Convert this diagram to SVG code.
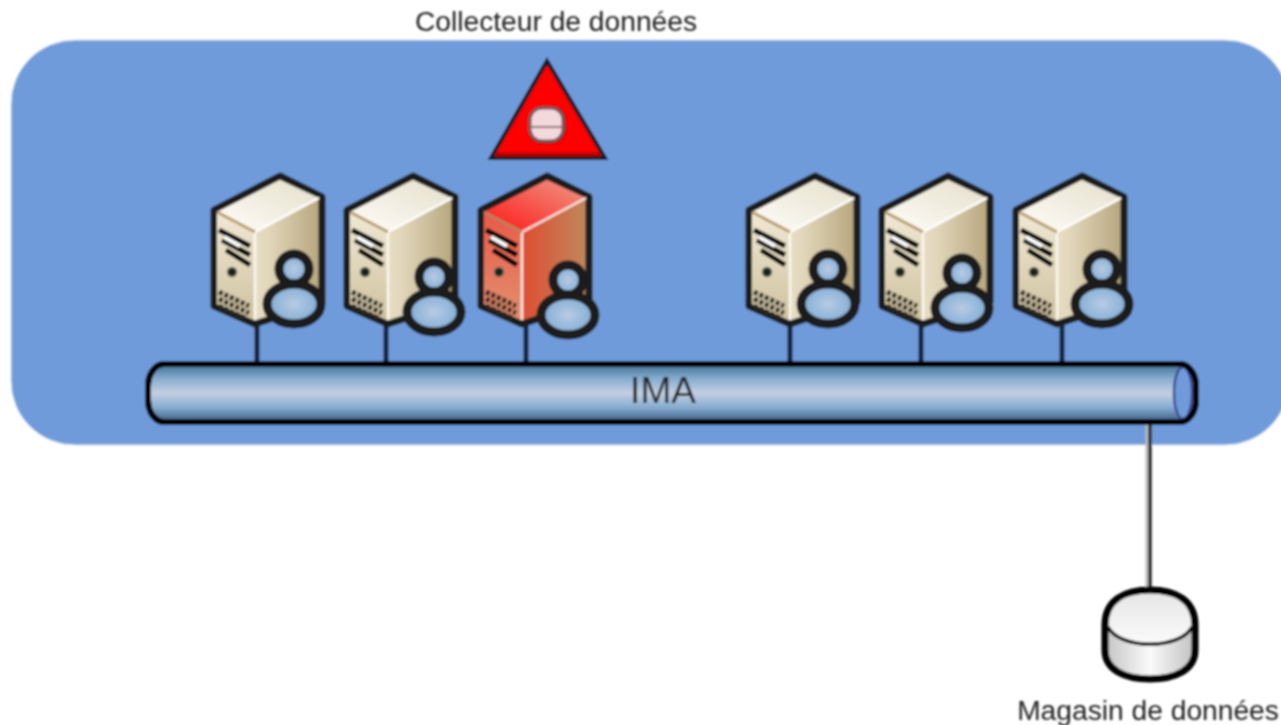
<svg xmlns="http://www.w3.org/2000/svg" xmlns:xlink="http://www.w3.org/1999/xlink" width="1281" height="725" viewBox="0 0 1281 725">
<style>
.lbl{font-family:"Liberation Sans",Arial,sans-serif;fill:#222}
.out{stroke:#1a1a1a;stroke-width:7;stroke-linejoin:round}
.conn{fill:none;stroke:#16243f;stroke-width:5}
</style>
<defs>
<filter id="soft" x="-2%" y="-2%" width="104%" height="104%"><feGaussianBlur stdDeviation="0.9"/></filter>
<linearGradient id="pipe" x1="0" y1="0" x2="0" y2="1"><stop offset="0" stop-color="#3f6f95"/><stop offset=".25" stop-color="#86acd0"/><stop offset=".5" stop-color="#c3cfe2"/><stop offset=".75" stop-color="#86acd0"/><stop offset="1" stop-color="#3a5a80"/></linearGradient>
<linearGradient id="side" x1="0" y1="0" x2="1" y2="0"><stop offset="0" stop-color="#f4eedf"/><stop offset=".5" stop-color="#e2d7bb"/><stop offset="1" stop-color="#b5a57c"/></linearGradient>
<linearGradient id="front" x1="0" y1="0" x2="0" y2="1"><stop offset="0" stop-color="#f0e8d4"/><stop offset="1" stop-color="#cfc2a0"/></linearGradient>
<linearGradient id="top" x1="0" y1="1" x2="1" y2="0"><stop offset="0" stop-color="#fffdf8"/><stop offset="1" stop-color="#e4dfcc"/></linearGradient>
<linearGradient id="rside" x1="0" y1="0" x2="1" y2="0"><stop offset="0" stop-color="#ee2a1c"/><stop offset=".5" stop-color="#d9593a"/><stop offset="1" stop-color="#bd8a5e"/></linearGradient>
<linearGradient id="rfront" x1="0" y1="0" x2="0" y2="1"><stop offset="0" stop-color="#e85a48"/><stop offset="1" stop-color="#e29070"/></linearGradient>
<linearGradient id="rtop" x1="0" y1="1" x2="1" y2="0"><stop offset="0" stop-color="#ff1414"/><stop offset="1" stop-color="#ee9a88"/></linearGradient>
<radialGradient id="usr"><stop offset="0" stop-color="#b8cbe4"/><stop offset="1" stop-color="#7fabd4"/></radialGradient>
<linearGradient id="dbside" x1="0" y1="0" x2="1" y2="0"><stop offset="0" stop-color="#c4c4c4"/><stop offset=".5" stop-color="#fafafa"/><stop offset="1" stop-color="#c0c0c0"/></linearGradient>
<linearGradient id="dbtop" x1="0" y1="0" x2="0" y2="1"><stop offset="0" stop-color="#e6e6e6"/><stop offset="1" stop-color="#fbfbfb"/></linearGradient>
<g id="marks">
<path d="M219 230L250 246M222 240L250 255M226 250L250 265" stroke="#000" stroke-width="5" fill="none"/>
<path d="M224 237L240 246" stroke="#fff" stroke-width="4" fill="none"/>
<circle cx="232" cy="272" r="4.500" fill="#14211d" stroke="#6b6b55" stroke-width="1.500"/>
<path d="M219 292L249 306M219 299L249 313M219 306L245 318" stroke="#2c2822" stroke-width="5" stroke-dasharray="4 2" fill="none"/>
</g>
<g id="srv">
<path class="out" d="M280 176L322 197V302L255 324L214 306V210Z" fill="url(#side)"/>
<path d="M217 213V304L254 320V232Z" fill="url(#front)"/>
<path d="M280 180L319 198L255 232L217 212Z" fill="url(#top)"/>
<path d="M255 232V320" stroke="#fbf8ef" stroke-width="2.500" fill="none"/>
<path d="M255 232L319 198" stroke="#fff" stroke-width="2.500" fill="none"/>
<path d="M217 212L255 232" stroke="#b89c70" stroke-width="3" fill="none"/>
<use xlink:href="#marks" href="#marks"/>
</g>
<g id="srvr">
<path class="out" d="M280 176L322 197V302L255 324L214 306V210Z" fill="url(#rside)"/>
<path d="M217 213V304L254 320V232Z" fill="url(#rfront)"/>
<path d="M280 180L319 198L255 232L217 212Z" fill="url(#rtop)"/>
<path d="M255 232V320" stroke="#fbe8df" stroke-width="2.500" fill="none"/>
<path d="M255 232L319 198" stroke="#fde0dc" stroke-width="2.500" fill="none"/>
<path d="M217 212L255 232" stroke="#b8805a" stroke-width="3" fill="none"/>
<use xlink:href="#marks" href="#marks"/>
</g>
<g id="usrg">
<circle cx="0" cy="-35" r="15" fill="url(#usr)" class="out" style="stroke-width:9"/>
<ellipse cx="0" cy="0" rx="27" ry="20" fill="url(#usr)" class="out" style="stroke-width:9"/>
</g>
</defs>
<rect width="1281" height="725" fill="#fff"/>
<g filter="url(#soft)">
<rect id="panel" x="11" y="40" width="1278" height="405" rx="64" ry="64" fill="#6f9bdb" stroke="#dde6f5" stroke-width="1"/>
<g id="connectors">
<path class="conn" d="M257 322V365M386 322V365M526 322V365M790 322V365M921 322V365M1062 322V365"/>
<path d="M1147 424V588" stroke="#bbb" stroke-width="3" fill="none"/>
<path d="M1150 424V590" stroke="#2c2c2c" stroke-width="3.500" fill="none"/>
</g>
<g id="collector">
<path d="M547 61L605 158H491Z" fill="#f00" stroke="#14141f" stroke-width="4" stroke-linejoin="miter"/>
<path d="M496 154.500H600" stroke="#b80000" stroke-width="4"/>
<rect x="528" y="106" width="38" height="38" rx="14" fill="#a80808"/>
<rect x="530" y="108" width="33" height="33" rx="12" fill="#f3d8dc" stroke="#7a5a5e" stroke-width="3"/>
<path d="M531 127H562" stroke="#8a7075" stroke-width="2"/>
</g>
<g id="s1"><use xlink:href="#srv" href="#srv"/><use xlink:href="#usrg" href="#usrg" x="294" y="304"/></g>
<g id="s2"><use xlink:href="#srv" href="#srv" x="133"/><use xlink:href="#usrg" href="#usrg" x="434" y="312"/></g>
<g id="s3"><use xlink:href="#srvr" href="#srvr" x="267"/><use xlink:href="#usrg" href="#usrg" x="568" y="315"/></g>
<g id="s4"><use xlink:href="#srv" href="#srv" x="535"/><use xlink:href="#usrg" href="#usrg" x="828" y="304"/></g>
<g id="s5"><use xlink:href="#srv" href="#srv" x="668"/><use xlink:href="#usrg" href="#usrg" x="962" y="308"/></g>
<g id="s6"><use xlink:href="#srv" href="#srv" x="802"/><use xlink:href="#usrg" href="#usrg" x="1102" y="304"/></g>
<g id="ima">
<rect x="148" y="364" width="1048" height="58" rx="16" ry="22" fill="url(#pipe)" stroke="#000" stroke-width="6"/>
<ellipse cx="1183" cy="393" rx="9" ry="26" fill="#6f9bdb" stroke="#3f4a90" stroke-width="2.500"/>
<rect x="148" y="364" width="1048" height="58" rx="16" ry="22" fill="none" stroke="#000" stroke-width="6"/>
<text class="lbl" x="663" y="403" font-size="37" text-anchor="middle">IMA</text>
</g>
<g id="store">
<path d="M1105 625C1105 600 1125 590 1150 590C1175 590 1195 600 1195 625V650C1195 670 1175 679 1150 679C1125 679 1105 670 1105 650Z" fill="url(#dbside)" stroke="#000" stroke-width="7"/>
<path d="M1109 627C1109 602 1125 594 1150 594C1175 594 1191 602 1191 627C1180 650 1120 650 1109 627Z" fill="url(#dbtop)"/>
<path d="M1108 627C1120 650 1180 650 1192 627" fill="none" stroke="#000" stroke-width="3.500"/>
</g>
<text class="lbl" x="556" y="31" font-size="28.2" text-anchor="middle">Collecteur de données</text>
<text class="lbl" x="1148" y="720" font-size="28.2" text-anchor="middle">Magasin de données</text>
</g>
</svg>
